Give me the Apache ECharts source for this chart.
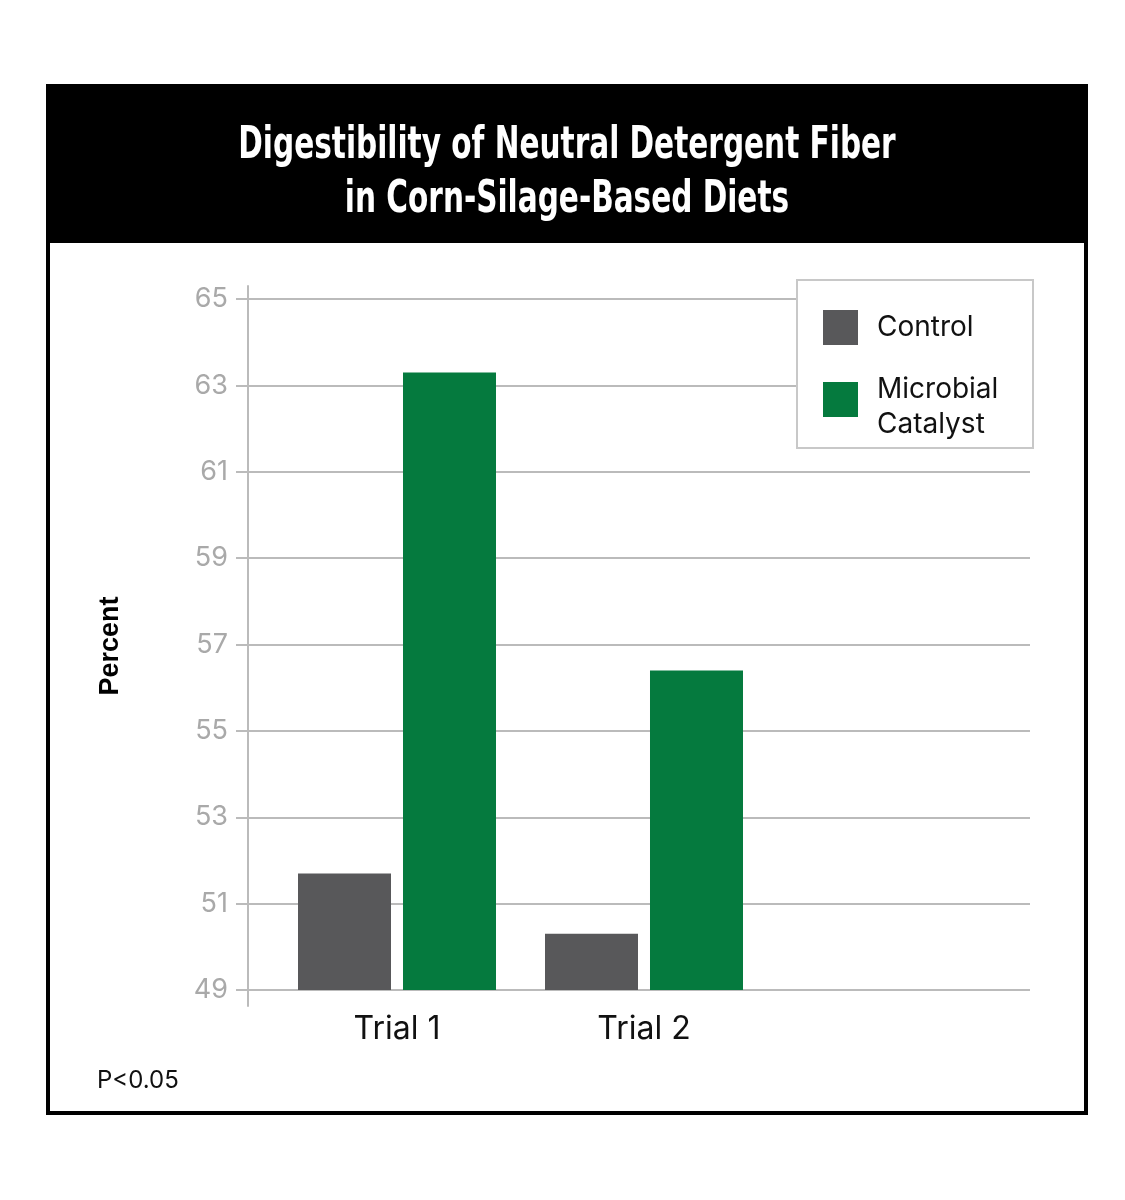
<!DOCTYPE html>
<html><head><meta charset="utf-8">
<script src="https://cdn.jsdelivr.net/npm/echarts@6/dist/echarts.min.js"></script>
<style>html,body{margin:0;padding:0;background:#fff}#c{width:1125px;height:1200px}</style>
</head><body><div id="c"></div>
<script>
const categories = ['Trial 1', 'Trial 2', ''];
const seriesNames = ['Control', 'Microbial\nCatalyst'];
const controlValues = [51.7, 50.3, null];
const catalystValues = [63.3, 56.4, null];
const yMin = 49, yMax = 65, yStep = 2;
const titleLines = ['Digestibility of Neutral Detergent Fiber', 'in Corn-Silage-Based Diets'];
const yAxisName = 'Percent';
const footNote = 'P<0.05';

const GRAY = '#bbbbbb';
const FONT = 'Inter, "Open Sans", sans-serif';
const TITLE_FONT = 'bold 45px "DejaVu Sans Condensed", "DejaVu Sans", sans-serif';
const chart = echarts.init(document.getElementById('c'), null, {renderer: 'canvas'});

const titleGraphics = titleLines.map((t, i) => ({
  type: 'text', x: 567, y: 146 + i * 54, scaleX: 0.73, z: 10,
  style: {text: t, font: TITLE_FONT, fill: '#fff', align: 'center', verticalAlign: 'middle'}
}));

const legendText = {fontFamily: FONT, fontSize: 28, color: '#111', lineHeight: 35, padding: [0, 0, 0, 14]};

chart.setOption({
  animation: false,
  backgroundColor: '#fff',
  graphic: [
    {type: 'rect', z: -10, shape: {x: 46, y: 84, width: 1042, height: 159}, style: {fill: '#000'}},
    {type: 'rect', z: -10, shape: {x: 48, y: 86, width: 1038, height: 1027}, style: {fill: 'none', stroke: '#000', lineWidth: 4}},
    {type: 'rect', z: 3, shape: {x: 797, y: 280, width: 236, height: 168}, style: {fill: '#fff', stroke: '#c8c8c8', lineWidth: 2}},
    {type: 'text', left: 97, top: 1069, style: {text: footNote, font: '24px ' + FONT, fill: '#111'}}
  ].concat(titleGraphics),
  legend: [
    {orient: 'vertical', padding: 0, z: 5, left: 823, top: 310, data: [seriesNames[0]],
      icon: 'rect', itemWidth: 35, itemHeight: 35, textStyle: legendText},
    {orient: 'vertical', padding: 0, z: 5, left: 823, top: 372, data: [seriesNames[1]],
      icon: 'path://M0,0L35,0L35,35L0,35Z M0,50L0.01,50', itemWidth: 35, itemHeight: 50, textStyle: legendText}
  ],
  grid: [
    {left: 248, top: 299, width: 782, height: 691},
    {left: 273.5, top: 299, width: 741, height: 691},
    {left: 248, top: 286, width: 782, height: 720}
  ],
  xAxis: [
    {gridIndex: 0, type: 'value', show: false},
    {gridIndex: 1, type: 'category', data: categories,
      axisLine: {show: false}, axisTick: {show: false},
      axisLabel: {fontFamily: FONT, fontSize: 32, color: '#111', margin: 23}},
    {gridIndex: 2, type: 'value', show: false}
  ],
  yAxis: [
    {gridIndex: 0, type: 'value', min: yMin, max: yMax, interval: yStep,
      axisLine: {show: false},
      axisTick: {show: true, length: 12, lineStyle: {color: GRAY, width: 2}},
      splitLine: {show: true, lineStyle: {color: GRAY, width: 2}},
      axisLabel: {fontFamily: FONT, fontSize: 27, color: '#a9a9a9', margin: 20}},
    {gridIndex: 1, type: 'value', min: yMin, max: yMax, show: false, splitLine: {show: false}},
    {gridIndex: 2, type: 'value', min: 0, max: 1, axisLabel: {show: false}, axisTick: {show: false},
      splitLine: {show: false}, axisLine: {show: true, lineStyle: {color: GRAY, width: 2}},
      name: yAxisName, nameLocation: 'middle', nameGap: 124,
      nameTextStyle: {fontFamily: '"Liberation Sans", Arial, sans-serif', fontWeight: 'bold', fontSize: 27, color: '#000'}}
  ],
  series: [
    {name: seriesNames[0], type: 'bar', xAxisIndex: 1, yAxisIndex: 1, data: controlValues,
      barWidth: 93, barGap: '12.9%', itemStyle: {color: '#58585a'}},
    {name: seriesNames[1], type: 'bar', xAxisIndex: 1, yAxisIndex: 1, data: catalystValues,
      barWidth: 93, barGap: '12.9%', itemStyle: {color: '#057a3e'}}
  ]
});
</script></body></html>
